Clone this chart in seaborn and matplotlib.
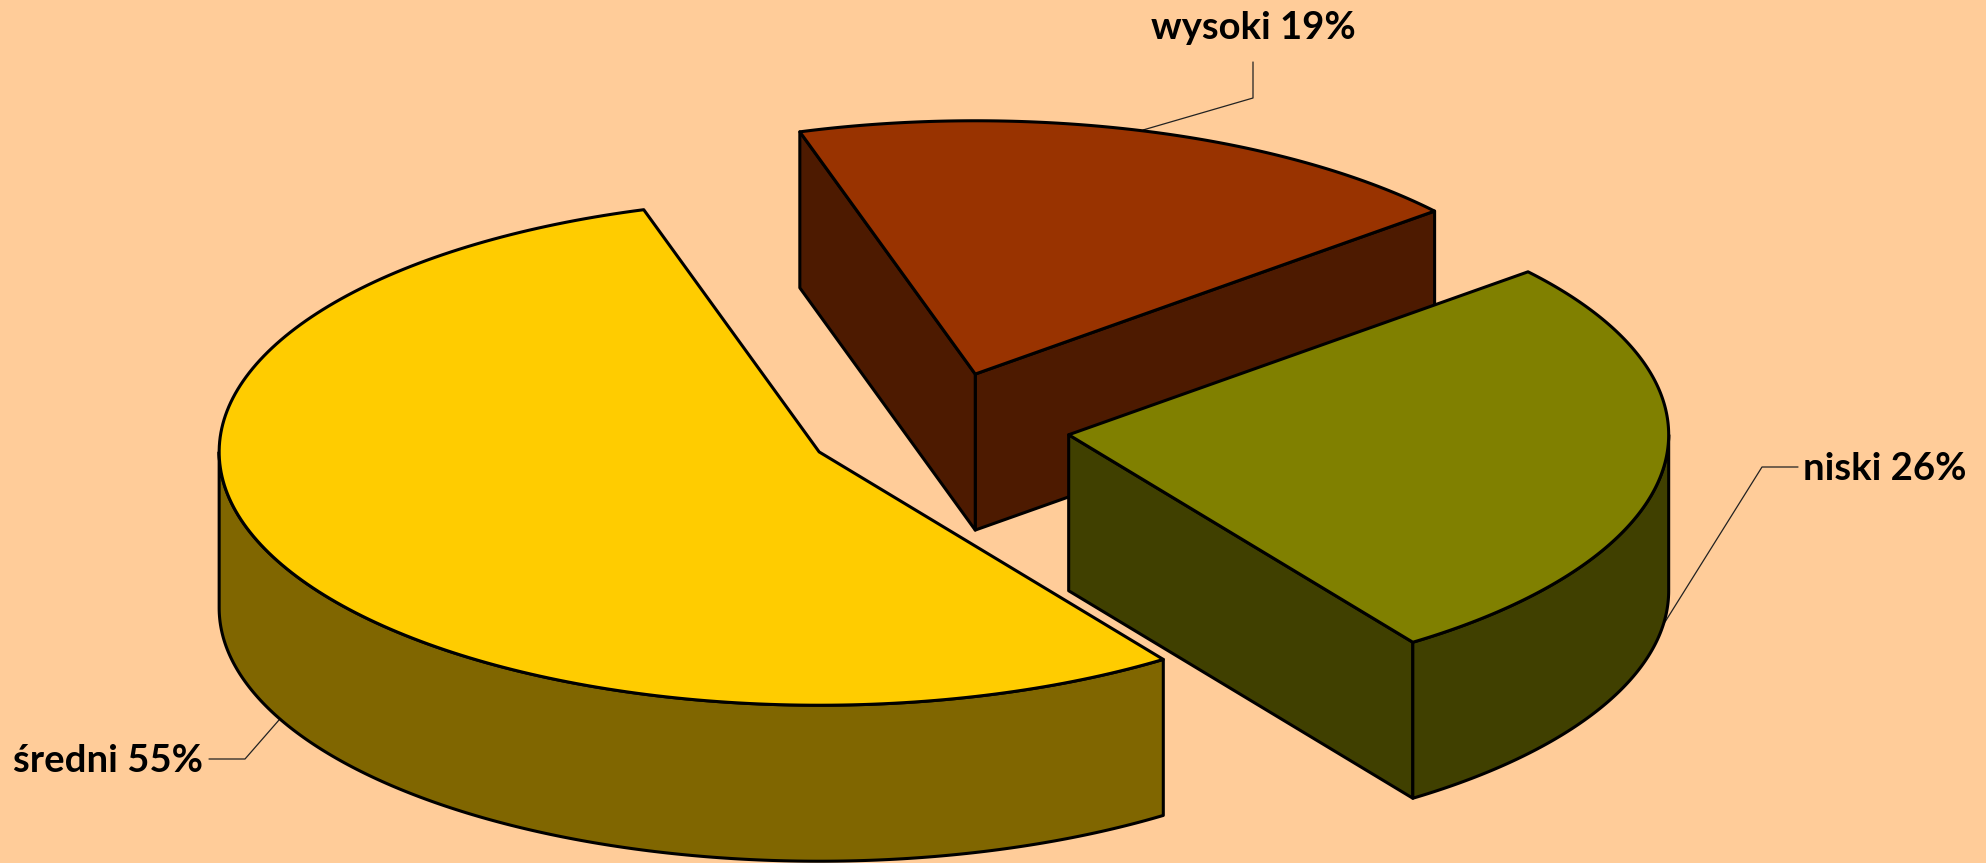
import numpy as np
import matplotlib
matplotlib.use("Agg")
import matplotlib.pyplot as plt
import seaborn as sns

labels = ["średni", "niski", "wysoki"]
shares = [55.0, 26.4, 18.6]
top_colors = ["#FFCC00", "#808000", "#993300"]
side_colors = ["#806600", "#404000", "#4D1A00"]

# pixel layout of the 3d pie
CX, CY = 937.8, 427.5
RX, RY = 600, 253.3
DEPTH = 156
EXPLODE = 0.22
START = 107

BG = "#FFCC99"
label_pos = {"średni": (13, 761, "left"), "niski": (1803, 469, "left"), "wysoki": (1253, 28, "center")}
leaders = {
    "średni": ([209, 245, 279], [759, 759, 720]),
    "niski": ([1798, 1762, 1665], [467, 467, 622]),
    "wysoki": ([1253, 1253, 1143], [62, 98, 130]),
}

sns.set_style("white")
plt.rcParams['font.family'] = ['Lato', 'DejaVu Sans']


def arc(cx, cy, t0, t1, dz=0):
    t = np.radians(np.linspace(t0, t1, 200))
    return cx + RX * np.cos(t), cy - RY * np.sin(t) + dz


def fill(ax, x, y, color, z):
    ax.fill(x, y, facecolor=color, edgecolor="black", lw=2.2, joinstyle="round", zorder=z)


def slice3d(ax, t0, t1, top, side, z):
    mid = np.radians((t0 + t1) / 2)
    cx = CX + EXPLODE * RX * np.cos(mid)
    cy = CY - EXPLODE * RY * np.sin(mid)

    # radial walls, only the ones facing the viewer
    for t in (t0, t1):
        ex, ey = arc(cx, cy, t, t)
        ex, ey = ex[0], ey[0]
        normal_y = np.sin(np.radians(t + 90 if t == t1 else t - 90))
        if normal_y < 0:
            fill(ax, [cx, ex, ex, cx], [cy, ey, ey + DEPTH, cy + DEPTH], side, z)

    # outer rim, lower half of the ellipse only
    a, b = max(t0, 180), min(t1, 360)
    if a < b:
        x, y = arc(cx, cy, a, b)
        x2, y2 = arc(cx, cy, b, a, DEPTH)
        fill(ax, np.r_[x, x2], np.r_[y, y2], side, z)

    x, y = arc(cx, cy, t0, t1)
    fill(ax, np.r_[cx, x], np.r_[cy, y], top, z + 0.5)


fig = plt.figure(figsize=(19.86, 8.63), dpi=100, facecolor=BG)
ax = fig.add_axes([0, 0, 1, 1])
ax.set_xlim(0, 1986)
ax.set_ylim(863, 0)
ax.axis("off")

angles = np.cumsum([0] + [s * 3.6 for s in shares]) + START
spans = {n: (angles[i], angles[i + 1]) for i, n in enumerate(labels)}

# back to front
for z, name in enumerate(["wysoki", "niski", "średni"]):
    i = labels.index(name)
    t0, t1 = spans[name]
    slice3d(ax, t0, t1, top_colors[i], side_colors[i], z + 2)

for i, name in enumerate(labels):
    lx, ly = leaders[name]
    ax.plot(lx, ly, color="#222222", lw=0.9, zorder=1)
    px, py, ha = label_pos[name]
    ax.text(px, py, f"{name} {shares[i]:.0f}%", fontsize=27.5, fontweight="bold", color="black",
            ha=ha, va="center", zorder=10)

fig.savefig("out.png", dpi=100, facecolor=BG)
